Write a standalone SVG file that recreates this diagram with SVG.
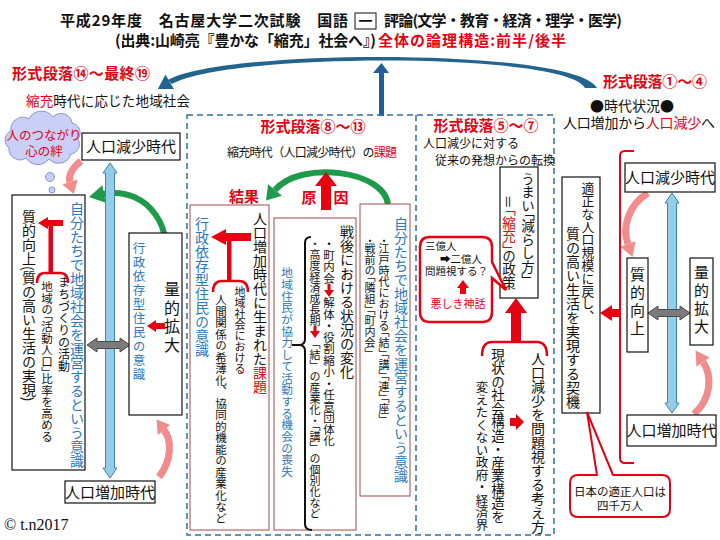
<svg xmlns="http://www.w3.org/2000/svg" width="720" height="540" viewBox="0 0 720 540">
<defs>
<style>
text{font-family:"Noto Sans CJK JP","Noto Sans CJK SC",sans-serif;fill:#111}
.b{font-weight:bold}
.r{fill:#e60012}
.bl{fill:#2b78bd}
.v{writing-mode:vertical-rl}
.hv{font-feature-settings:"vhal" 1}
.bx{fill:#fff;stroke:#111;stroke-width:1.2}
.mb{fill:#fff;stroke:#a04a4a;stroke-width:1}
.dash{fill:none;stroke:#2f6ea6;stroke-width:1.5;stroke-dasharray:6 4}
.ra{fill:#e60012}
.rl{fill:none;stroke:#e60012;stroke-width:2.5}
.ba{fill:#93cde8;stroke:#3a83b5;stroke-width:1}
.ga{fill:#7b7b7b;stroke:#4a4a4a;stroke-width:1}
.gr{fill:none;stroke:#1f9a4b;stroke-width:6}
.grh{fill:#1f9a4b}
.pk{fill:none;stroke:#f28b8b;stroke-width:7}
.pkh{fill:#f28b8b}
.cl{fill:#c9cff6;stroke:#8893d6;stroke-width:1}
.co{fill:#fff;stroke:#e60012;stroke-width:2.5}
</style>
</defs>
<rect width="720" height="540" fill="#fff"/>

<g id="title">
<text x="60" y="25.5" class="b" font-size="15" textLength="288">平成29年度　名古屋大学二次試験　国語</text>
<rect x="355" y="13" width="21" height="16" fill="none" stroke="#111" stroke-width="1"/>
<text x="365.5" y="25.5" class="b" font-size="14" text-anchor="middle">一</text>
<text x="384" y="25.5" class="b" font-size="15" textLength="238">評論(文学・教育・経済・理学・医学)</text>
<text x="115" y="45.5" class="b" font-size="15" textLength="261">(出典:山崎亮『豊かな「縮充」社会へ』)</text>
<text x="378" y="45.5" class="b r" font-size="15" textLength="188">全体の論理構造:前半/後半</text>
</g>

<g id="labels-top">
<text x="12" y="78.5" class="b r" font-size="15" textLength="138">形式段落⑭～最終⑲</text>
<text x="26" y="106" font-size="13.5" textLength="164"><tspan class="r">縮充</tspan>時代に応じた地域社会</text>
<text x="603" y="86.5" class="b r" font-size="15" textLength="104">形式段落①～④</text>
<text x="632" y="111" font-size="14" text-anchor="middle">●時代状況●</text>
<text x="563" y="128" font-size="14" textLength="152">人口増加から<tspan class="r">人口減少</tspan>へ</text>
</g>

<g id="connectors">
<path d="M597,88 C575,48 225,48 168,80 L172,84 C228,52 568,52 585,88 Z" fill="#23648f"/>
<polygon points="157.8,88.9 173.9,89 165.5,74.6" fill="#23648f"/>
<rect x="379" y="72" width="5" height="44" fill="#1f5fa0"/>
<polygon points="373,73 389,73 381.5,63" fill="#1f5fa0"/>
<path class="gr" d="M160,267 C178,235 150,185 103,194"/>
<polygon class="grh" points="89,197 105.7,202.8 102.3,185.2"/>
<path class="gr" d="M388,205 C385,170 300,160 275,190"/>
<polygon class="grh" points="266,200.5 281.9,195.8 268.1,184.2"/>
<path class="pk" d="M81,161 C72,168 68,176 70,182"/>
<polygon class="pkh" points="73.8,194 77.6,179.4 62.4,184.6"/>
<path class="pk" d="M159,477 C172,460 172,440 164,430"/>
<polygon class="pkh" points="156.6,419.6 170.2,425 157.8,435"/>
<path class="pk" d="M648,193 C628,205 622,228 628,244"/>
<polygon class="pkh" points="632.5,257 635.5,241.2 620.5,246.8"/>
<path class="pk" d="M694,414 C712,398 712,375 703,362"/>
<polygon class="pkh" points="695.6,350.5 709.6,357.4 696.4,366.6"/>
<polygon class="ba" points="110,163 117,173 114.5,173 114.5,468 117,468 110,478 103,468 105.5,468 105.5,173 103,173"/>
<polygon class="ba" points="672,193 679,203 676.5,203 676.5,403 679,403 672,413 665,403 667.5,403 667.5,203 665,203"/>
<polygon class="ga" points="87,345 97,338 97,341.5 120,341.5 120,338 130,345 120,352 120,348.5 97,348.5 97,352"/>
<polygon class="ga" points="648,313 658,306 658,309.5 680,309.5 680,306 690,313 680,320 680,316.5 658,316.5 658,320"/>
</g>

<g id="frame">
<rect class="dash" x="187" y="115" width="367" height="420"/>
<line class="dash" x1="416" y1="115" x2="416" y2="535"/>
</g>

<g id="cloud">
<path class="cl" d="M9,148 A10,10 0 0 1 11,131 A12,12 0 0 1 29,119 A14,14 0 0 1 53,117 A11,11 0 0 1 72,123 A10,10 0 0 1 78,139 A10,10 0 0 1 71,154 A13,13 0 0 1 49,159 A14,14 0 0 1 26,158 A11,11 0 0 1 9,148 Z"/>
<circle class="cl" cx="50" cy="177" r="4.5"/>
<circle class="cl" cx="52" cy="190" r="3"/>
<circle class="cl" cx="54" cy="200" r="1.5"/>
<text x="44" y="139.5" class="r" font-size="12.5" text-anchor="middle">人のつながり</text>
<text x="44" y="156" class="r" font-size="12.5" text-anchor="middle">心の絆</text>
</g>

<g id="left-decrease">
<rect class="bx" x="82" y="133" width="98" height="27"/>
<text x="131" y="152" font-size="15" text-anchor="middle">人口減少時代</text>
</g>
<g id="left-increase">
<rect class="bx" x="65" y="481" width="90" height="22"/>
<text x="110" y="497.5" font-size="15" text-anchor="middle">人口増加時代</text>
</g>

<g id="left-quality">
<rect class="bx" x="12" y="195" width="73" height="275"/>
<text x="77" y="202" class="v bl" font-size="14">自分たちで地域社会を運営するという意識</text>
<text x="29" y="210" class="v" font-size="14">質的向上(質の高い生活の実現)</text>
<text x="64" y="276" class="v" font-size="12">まちづくりの活動</text>
<text x="47" y="281" class="v hv" font-size="11.5">地域の「活動人口」比率を高める</text>
<path class="rl" d="M37,283 Q37,273 45,273 L60,273 Q68,273 68,283"/>
<rect class="ra" x="48.5" y="224" width="4.5" height="49"/>
<polygon class="ra" points="38,223 48,217 48,220 63,220 63,226 48,226 48,229"/>
</g>

<g id="left-quantity">
<rect class="bx" x="129" y="233" width="53" height="182"/>
<text x="139" y="242" class="v bl" font-size="12.5" letter-spacing="1.5">行政依存型住民の意識</text>
<text x="172" y="281" class="v" font-size="16" letter-spacing="2.5">量的拡大</text>
<polygon class="ra" points="147,326 156,320 156,323 165,323 165,329 156,329 156,332"/>
</g>

<g id="mid-titles">
<text x="313" y="132" class="b r" font-size="15" text-anchor="middle">形式段落⑧～⑬</text>
<text x="312" y="156.5" font-size="12" text-anchor="middle" textLength="170">縮充時代（人口減少時代）の<tspan class="r">課題</tspan></text>
<text x="244" y="202" class="b r" font-size="15" text-anchor="middle">結果</text>
<text x="309" y="203" class="b r" font-size="15" text-anchor="middle">原</text>
<text x="341" y="203" class="b r" font-size="15" text-anchor="middle">因</text>
<rect class="ra" x="321" y="185" width="10" height="25"/>
<polygon class="ra" points="315,186 337,186 326,172"/>
</g>

<g id="box-result">
<rect class="mb" x="190" y="205" width="79" height="325"/>
<text x="202" y="217" class="v bl" font-size="14">行政依存型住民の意識</text>
<text x="260" y="212" class="v" font-size="14">人口増加時代に生まれた<tspan class="r">課題</tspan></text>
<text x="240" y="286" class="v" font-size="11">地域社会における</text>
<text x="221" y="294" class="v" font-size="11.5">人間関係の希薄化、協同的機能の産業化など</text>
<path class="rl" d="M213,292 Q213,281 222,281 L239,281 Q248,281 248,292"/>
<rect class="ra" x="227" y="238" width="4.5" height="43"/>
<polygon class="ra" points="211,237 226,229 226,233 251,233 251,241 226,241 226,245"/>
</g>

<g id="box-cause">
<rect class="mb" x="274" y="218" width="82" height="312"/>
<text x="347" y="225" class="v" font-size="14">戦後における状況の変化</text>
<text x="329" y="238" class="v" font-size="11.5">・町内会</text>
<polygon class="ra" points="327.5,284 330.5,284 330.5,290 334,290 329,297 324,290 327.5,290"/>
<text x="329" y="297" class="v" font-size="11.5">解体・役割縮小・任意団体化</text>
<text x="315" y="238" class="v" font-size="11">・高度経済成長期</text>
<polygon class="ra" points="313.5,326 316.5,326 316.5,331 320,331 315,338 310,331 313.5,331"/>
<text x="315" y="338" class="v" font-size="11">「結」の産業化・「講」の個別化など</text>
<path d="M311,237 Q305,237 305,243 L305,339 Q305,345 299,345 L292,345 M299,345 Q305,345 305,351 L305,524 Q305,530 312,530" fill="none" stroke="#111" stroke-width="2"/>
<text x="287" y="267" class="v bl" font-size="11.7">地域住民が協力して活動する機会の喪失</text>
</g>

<g id="box-origin">
<rect class="mb" x="360" y="204" width="50" height="292"/>
<text x="401" y="217" class="v bl" font-size="14">自分たちで地域社会を運営するという意識</text>
<text x="384" y="238" class="v hv" font-size="11">・江戸時代における「結」「講」「連」「座」</text>
<text x="370" y="238" class="v hv" font-size="11">・戦前の「隣組」「町内会」</text>
</g>

<g id="right-section">
<text x="486" y="131" class="b r" font-size="15" text-anchor="middle">形式段落⑤～⑦</text>
<text x="423" y="148" font-size="12">人口減少に対する</text>
<text x="435" y="165" font-size="12">従来の発想からの転換</text>
</g>

<g id="box-policy">
<rect class="bx" x="500" y="167" width="38" height="131"/>
<text x="528" y="172" class="v hv" font-size="13.5">うまい「減らし方」</text>
<text x="509" y="195" class="v hv" font-size="13.5">＝<tspan class="r">「縮充」</tspan>の政策</text>
</g>

<g id="callout-myth">
<path class="co" d="M430,237 H482 Q492,237 492,247 V262 L506,290 L492,278 V312 Q492,322 482,322 H430 Q420,322 420,312 V247 Q420,237 430,237 Z"/>
<text x="425" y="250" font-size="10.5">三億人</text>
<text x="440" y="262.5" font-size="10.5">➡二億人</text>
<text x="425" y="275" font-size="10.5">問題視する？</text>
<rect class="ra" x="460" y="287" width="6" height="7"/>
<polygon class="ra" points="457,288 469,288 463,280"/>
<text x="458" y="308" class="r" font-size="11" text-anchor="middle">悪しき神話</text>
</g>

<g id="box-view">
<rect class="ra" x="511" y="311" width="10" height="30"/>
<polygon class="ra" points="505,313 527,313 516,298"/>
<path class="rl" d="M482,356 Q482,342 492,342 L537,342 Q547,342 547,356"/>
<text x="538" y="352" class="v" font-size="14">人口減少を問題視する考え方</text>
<text x="498" y="348" class="v" font-size="13.5">現状の社会構造・産業構造を</text>
<text x="482" y="381" class="v" font-size="12.5">変えたくない政府・経済界</text>
<polygon class="ra" points="524,422 516,414 516,418 510,418 510,426 516,426 516,430"/>
</g>

<g id="right-bracket">
<path class="rl" d="M634,151 L625,151 Q620,151 620,156 L620,458 Q620,463 625,463 L634,463" style="stroke-width:2"/>
<polygon class="ra" points="600,313 612,305 612,309 620,309 620,317 612,317 612,321"/>
</g>

<g id="box-chance">
<rect class="bx" x="562" y="177" width="38" height="236"/>
<text x="588" y="182" class="v" font-size="12.8">適正な人口規模に戻し、</text>
<text x="573" y="227" class="v" font-size="14">質の高い生活を実現する契機</text>
</g>

<g id="callout-40m">
<path class="co" d="M578,475 H597 L587,412 L613,475 H662 Q670,475 670,483 V509 Q670,517 662,517 H578 Q570,517 570,509 V483 Q570,475 578,475 Z" style="stroke-width:2"/>
<text x="620" y="496" font-size="11.5" text-anchor="middle">日本の適正人口は</text>
<text x="620" y="510" font-size="11.5" text-anchor="middle">四千万人</text>
</g>

<g id="right-decrease">
<rect class="bx" x="625" y="163" width="90" height="29"/>
<text x="670" y="182.5" font-size="15" text-anchor="middle">人口減少時代</text>
</g>
<g id="right-increase">
<rect class="bx" x="627" y="415" width="89" height="31"/>
<text x="671.5" y="436" font-size="15" text-anchor="middle">人口増加時代</text>
</g>
<g id="right-quality">
<rect class="bx" x="627" y="258" width="21" height="94"/>
<text x="637.5" y="267" class="v" font-size="15" letter-spacing="3">質的向上</text>
</g>
<g id="right-quantity">
<rect class="bx" x="690" y="258" width="23" height="87"/>
<text x="701.5" y="265" class="v" font-size="15" letter-spacing="3">量的拡大</text>
</g>

<text x="4" y="530" font-size="16" style="font-family:'Liberation Serif',serif">© t.n2017</text>
</svg>
